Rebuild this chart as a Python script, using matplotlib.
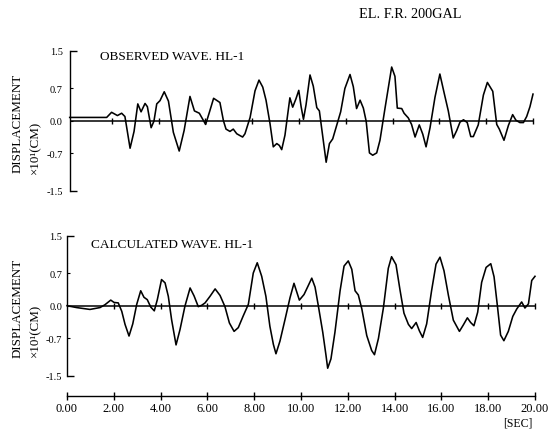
import matplotlib
matplotlib.use("Agg")
import matplotlib.pyplot as plt

# ---- data -------------------------------------------------------------
# observed displacement wave (x10^1 cm) vs time (s)
obs_t = [0.2, 1.78, 1.99, 2.24, 2.42, 2.56, 2.78, 2.95, 3.11, 3.25,
         3.42, 3.52, 3.68, 3.80, 3.92, 4.06, 4.24, 4.42, 4.63, 4.88,
         5.09, 5.34, 5.53, 5.74, 6.01, 6.17, 6.35, 6.62, 6.77, 6.88,
         7.05, 7.19, 7.34, 7.48, 7.59, 7.69, 7.91, 8.12, 8.29, 8.45,
         8.59, 8.76, 8.90, 9.05, 9.16, 9.26, 9.40, 9.52, 9.61, 9.73,
         9.87, 9.99, 10.09, 10.19, 10.30, 10.47, 10.61, 10.76, 10.87, 11.01,
         11.16, 11.30, 11.44, 11.61, 11.78, 11.96, 12.18, 12.32, 12.46, 12.61,
         12.75, 12.87, 13.01, 13.15, 13.32, 13.46, 13.67, 13.96, 14.10, 14.20,
         14.39, 14.49, 14.67, 14.81, 14.96, 15.14, 15.29, 15.43, 15.60, 15.81,
         16.02, 16.20, 16.38, 16.59, 16.74, 16.88, 17.03, 17.19, 17.34, 17.45,
         17.66, 17.88, 18.05, 18.28, 18.45, 18.56, 18.76, 18.95, 19.13, 19.27,
         19.44, 19.59, 19.73, 19.87, 20.0]
obs_v = [0.07, 0.07, 0.18, 0.11, 0.16, 0.09, -0.59, -0.23, 0.36, 0.19,
         0.37, 0.30, -0.15, -0.01, 0.36, 0.43, 0.62, 0.42, -0.25, -0.65,
         -0.21, 0.52, 0.21, 0.16, -0.08, 0.18, 0.48, 0.39, 0.0, -0.18,
         -0.23, -0.18, -0.28, -0.32, -0.35, -0.28, 0.07, 0.64, 0.87, 0.72,
         0.44, -0.06, -0.56, -0.49, -0.53, -0.62, -0.31, 0.15, 0.49, 0.29,
         0.47, 0.65, 0.30, 0.03, 0.34, 0.98, 0.74, 0.28, 0.21, -0.32,
         -0.89, -0.49, -0.39, -0.10, 0.19, 0.69, 0.99, 0.73, 0.26, 0.44,
         0.27, -0.01, -0.69, -0.74, -0.69, -0.42, 0.25, 1.15, 0.95, 0.27,
         0.26, 0.16, 0.06, -0.08, -0.35, -0.09, -0.29, -0.56, -0.15, 0.50,
         1.0, 0.6, 0.21, -0.37, -0.21, -0.03, 0.02, -0.04, -0.34, -0.34,
         -0.09, 0.55, 0.82, 0.63, -0.08, -0.18, -0.42, -0.10, 0.13, 0.01,
         -0.04, -0.04, 0.09, 0.30, 0.57]

# calculated displacement wave (x10^1 cm) vs time (s)
calc_t = [0.0, 0.41, 0.98, 1.41, 1.62, 1.87, 2.01, 2.19, 2.34, 2.48,
          2.65, 2.81, 2.98, 3.15, 3.29, 3.43, 3.58, 3.73, 3.86, 4.04,
          4.19, 4.33, 4.47, 4.66, 4.83, 5.04, 5.26, 5.43, 5.61, 5.76,
          5.90, 6.11, 6.33, 6.54, 6.75, 6.94, 7.14, 7.32, 7.53, 7.75,
          7.96, 8.13, 8.32, 8.50, 8.67, 8.82, 8.93, 9.10, 9.32, 9.53,
          9.70, 9.93, 10.13, 10.31, 10.46, 10.60, 10.74, 10.93, 11.07, 11.14,
          11.28, 11.45, 11.67, 11.84, 12.02, 12.17, 12.31, 12.45, 12.60, 12.81,
          13.02, 13.14, 13.31, 13.52, 13.73, 13.87, 14.06, 14.23, 14.40, 14.59,
          14.73, 14.92, 15.06, 15.20, 15.37, 15.58, 15.77, 15.94, 16.11, 16.30,
          16.51, 16.77, 16.94, 17.11, 17.25, 17.39, 17.55, 17.72, 17.91, 18.11,
          18.25, 18.39, 18.53, 18.67, 18.86, 19.05, 19.22, 19.43, 19.57, 19.72,
          19.86, 20.0]
calc_v = [0.0, -0.04, -0.08, -0.04, 0.02, 0.12, 0.07, 0.06, -0.12, -0.40,
          -0.65, -0.39, 0.03, 0.32, 0.18, 0.13, -0.03, -0.11, 0.13, 0.56,
          0.49, 0.20, -0.30, -0.84, -0.51, -0.01, 0.38, 0.21, -0.02, 0.01,
          0.06, 0.20, 0.36, 0.22, -0.02, -0.37, -0.55, -0.47, -0.22, 0.03,
          0.70, 0.92, 0.63, 0.20, -0.44, -0.83, -1.03, -0.76, -0.29, 0.17,
          0.48, 0.12, 0.24, 0.43, 0.59, 0.40, 0.0, -0.57, -1.07, -1.34,
          -1.14, -0.57, 0.32, 0.85, 0.96, 0.78, 0.32, 0.23, -0.07, -0.64,
          -0.96, -1.05, -0.70, -0.05, 0.80, 1.05, 0.88, 0.34, -0.16, -0.40,
          -0.49, -0.36, -0.54, -0.68, -0.39, 0.32, 0.89, 1.04, 0.75, 0.22,
          -0.31, -0.55, -0.41, -0.26, -0.36, -0.43, -0.14, 0.50, 0.82, 0.90,
          0.62, 0.01, -0.63, -0.75, -0.55, -0.23, -0.07, 0.08, -0.05, 0.04,
          0.54, 0.63]

time_ticks = [0, 2, 4, 6, 8, 10, 12, 14, 16, 18, 20]
time_labels = ["0.00", "2.00", "4.00", "6.00", "8.00", "10.00",
               "12.00", "14.00", "16.00", "18.00", "20.00"]
disp_end_ticks = [-1.5, 1.5]
disp_end_labels = ["-1.5", "1.5"]
disp_mid_ticks = [-0.7, 0.0, 0.7]
disp_mid_labels = ["-0.7", "0.0", "0.7"]

# ---- figure -----------------------------------------------------------
W, H = 549, 431
plt.rcParams['font.family'] = ['Liberation Serif', 'DejaVu Serif']
fig = plt.figure(figsize=(W / 100, H / 100), dpi=100)
fig.patch.set_facecolor("white")


def box(x0, y0, x1, y1):
    return [x0 / W, 1 - y1 / H, (x1 - x0) / W, (y1 - y0) / H]


def ftext(x, y, s, **kw):
    fig.text(x / W, 1 - y / H, s, **kw)


ax1 = fig.add_axes(box(69.7, 51.7, 533, 191.7))
ax2 = fig.add_axes(box(67, 236.7, 535, 376.7))


def style_panel(ax, tmin, t, v, pad):
    ax.set_xlim(tmin, 20)
    ax.set_ylim(-1.5, 1.5)
    for s in ("top", "right"):
        ax.spines[s].set_visible(False)
    ax.spines["left"].set_linewidth(1.0)
    ax.spines["left"].set_color("black")
    ax.set_yticks(disp_end_ticks)
    ax.set_yticklabels(disp_end_labels)
    ax.set_yticks(disp_mid_ticks, minor=True)
    ax.set_yticklabels(disp_mid_labels, minor=True)
    ax.tick_params(axis="y", which="major", direction="in", length=5,
                   width=1.0, labelsize=7.5, pad=pad)
    ax.tick_params(axis="y", which="minor", direction="in", length=2,
                   width=0.8, labelsize=7.5, pad=pad)
    # zero reference line with 2-second marks
    ax.hlines(0, tmin, time_ticks[-1], color="black", lw=1.1)
    ax.plot(time_ticks[1:], [0] * len(time_ticks[1:]), ls="none",
            marker="|", ms=5, mew=1.0, color="black", clip_on=False)
    ax.plot(t, v, color="black", lw=1.15, clip_on=False)


style_panel(ax1, 0.2, obs_t, obs_v, 5)
ax1.spines["bottom"].set_visible(False)
ax1.set_xticks([])

style_panel(ax2, 0.0, calc_t, calc_v, 3.6)
ax2.spines["bottom"].set_position(("outward", 14.5))
ax2.spines["bottom"].set_bounds(0, 20)
ax2.spines["bottom"].set_linewidth(1.0)
ax2.set_xticks(time_ticks)
ax2.set_xticklabels(time_labels)
ax2.tick_params(axis="x", direction="inout", length=6, width=1.0,
                labelsize=9, pad=1.5)

# ---- text -------------------------------------------------------------
ftext(359, 15, "EL. F.R. 200GAL", fontsize=10.3, va="center", ha="left")
ftext(100, 57, "OBSERVED WAVE. HL-1", fontsize=9.5, va="center", ha="left")
ftext(91, 245, "CALCULATED WAVE. HL-1", fontsize=9.5, va="center", ha="left")

for yc1, yc2 in ((123, 147), (308, 330)):
    ftext(17.5, yc1, "DISPLACEMENT", fontsize=9.4, rotation=90,
          va="center", ha="center")
    ftext(35, yc2, "×10¹(CM)", fontsize=9.4, rotation=90,
          va="center", ha="center")

ftext(518, 424, "[SEC]", fontsize=8.5, va="center", ha="center")

fig.savefig("out.png", dpi=100, facecolor="white")
